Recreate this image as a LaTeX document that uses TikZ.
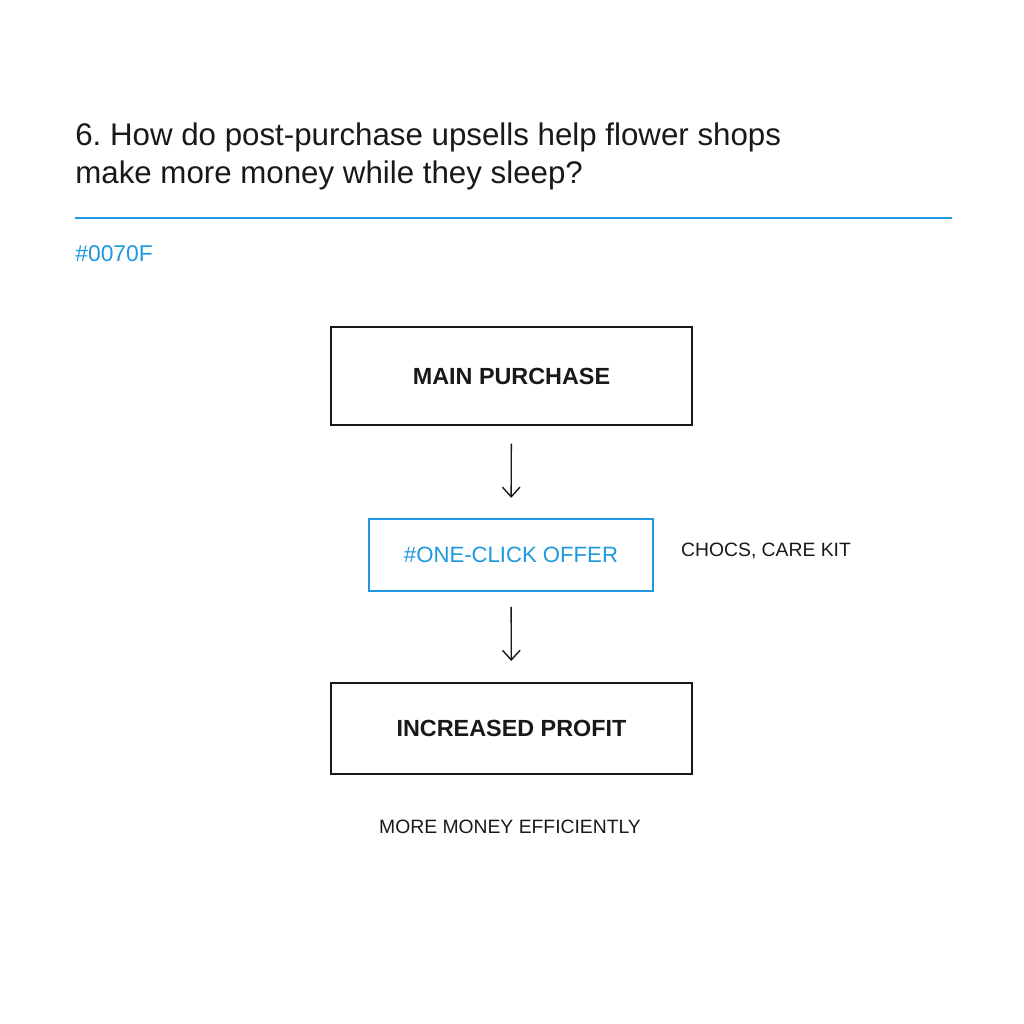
\documentclass[tikz,border=0pt]{standalone}
\usepackage{fontspec}
\setmainfont{Liberation Sans}
\usetikzlibrary{arrows.meta}

\definecolor{offerblue}{RGB}{30,152,222}
\definecolor{inkblack}{RGB}{25,25,25}

\tikzset{
  stepbox/.style={draw=inkblack, line width=1.1pt, minimum width=7.22cm,
    text=inkblack, font=\fontsize{13.3}{16}\selectfont\bfseries},
  offerbox/.style={draw=offerblue, line width=1.1pt, minimum width=5.68cm,
    minimum height=1.44cm, text=offerblue, font=\fontsize{12.6}{15}\selectfont},
  flow/.style={-{Straight Barb[length=5.5pt,width=10pt]}, line width=0.8pt, draw=inkblack},
  note/.style={text=inkblack, font=\fontsize{11}{13}\selectfont},
}

\begin{document}
\begin{tikzpicture}[x=0.02cm, y=-0.02cm]
    % 画面の大きさ
    \useasboundingbox[fill=white] (0,0) rectangle (1024,1024);

    % 見出し
    \node[anchor=base west, inner sep=0, text=inkblack, font=\fontsize{17.8}{21}\selectfont]
      (title1) at (75,145) {6.\ How do post-purchase upsells help flower shops};
    \node[anchor=base west, inner sep=0, text=inkblack, font=\fontsize{17.8}{21}\selectfont]
      (title2) at (75,183) {make more money while they sleep?};
    \draw[offerblue, line width=1.2pt] (75,218) -- (952,218);
    \node[anchor=base west, inner sep=0, text=offerblue, font=\fontsize{13}{15}\selectfont]
      (tag) at (75,261) {\#0070F};

    % 3つの箱
    \node[stepbox, minimum height=1.96cm] (main) at (511.5,376) {MAIN PURCHASE};
    \node[offerbox] (offer) at (511,555) {\#ONE-CLICK OFFER};
    \node[stepbox, minimum height=1.82cm] (profit) at (511.5,728.5) {INCREASED PROFIT};

    % 矢印
    \draw[flow, shorten <=10pt, shorten >=11.5pt] (main) -- (offer);
    \draw[flow, shorten <=8.5pt, shorten >=12pt] (offer) -- (profit);

    % 注記
    \node[note, anchor=west] (extras) at (675,551) {CHOCS, CARE KIT};
    \node[note] (result) at (510,827) {MORE MONEY EFFICIENTLY};

  \end{tikzpicture}
\end{document}
